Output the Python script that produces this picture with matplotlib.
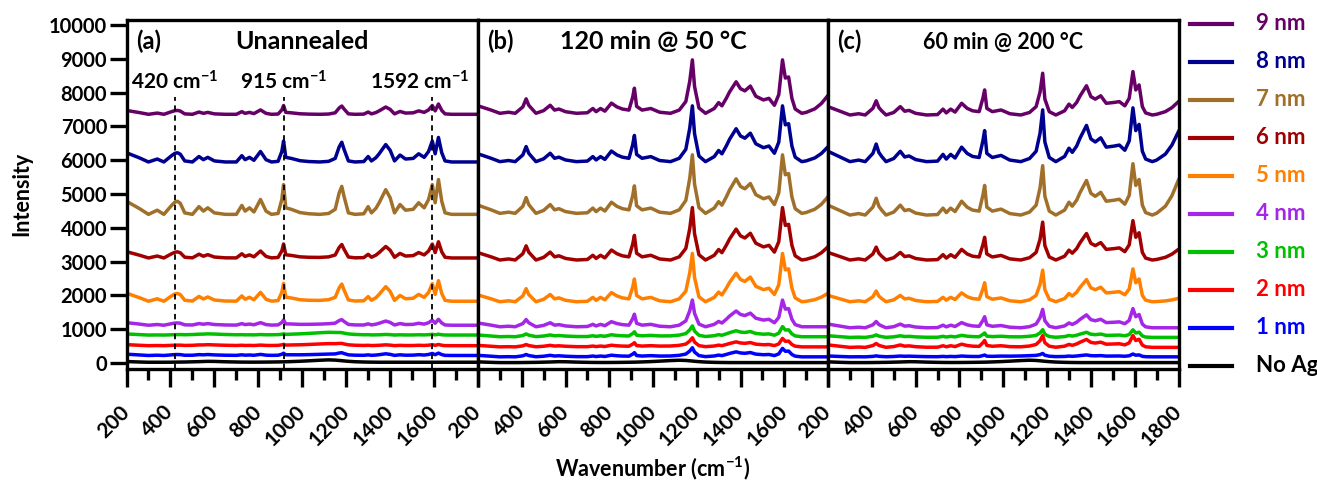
import numpy as np
import matplotlib
matplotlib.use('Agg')
import matplotlib.pyplot as plt

plt.rcParams['font.family'] = ['Lato', 'DejaVu Sans']
plt.rcParams['font.weight'] = 'bold'
plt.rcParams['mathtext.fontset'] = 'custom'
plt.rcParams['mathtext.rm'] = 'Lato:bold'
plt.rcParams['mathtext.bf'] = 'Lato:bold'
plt.rcParams['mathtext.default'] = 'bf'

# wavenumber grid shared by all spectra (cm-1)
wavenumber = [200, 260, 300, 340, 370, 405, 420, 432, 445, 465,
              500, 530, 550, 570, 600, 650, 700, 725, 740, 760,
              780, 810, 835, 860, 890, 907, 915, 925, 950, 990,
              1030, 1080, 1120, 1150, 1168, 1180, 1190, 1210, 1240, 1280,
              1300, 1315, 1335, 1350, 1380, 1400, 1420, 1445, 1470, 1505,
              1530, 1555, 1575, 1592, 1605, 1620, 1635, 1650, 1680, 1700,
              1740, 1770, 1800]

peaks_a = [0.44, 0.19, 0.00, 0.14, 0.00, 0.30, 0.41, 0.44, 0.37, 0.05,
           0.00, 0.26, 0.11, 0.22, 0.05, 0.00, 0.00, 0.30, 0.11, 0.22,
           0.08, 0.50, 0.11, 0.00, 0.03, 0.50, 1.00, 0.22, 0.17, 0.06,
           0.02, 0.00, 0.03, 0.17, 0.72, 0.94, 0.61, 0.05, 0.00, 0.02,
           0.26, 0.05, 0.20, 0.39, 0.83, 0.56, 0.05, 0.33, 0.14, 0.17,
           0.39, 0.22, 0.50, 1.00, 0.39, 1.17, 0.44, 0.05, 0.00, 0.00,
           0.00, 0.00, 0.00]
peaks_b = [0.14, 0.06, 0.00, 0.02, 0.00, 0.12, 0.27, 0.15, 0.09, 0.00,
           0.05, 0.15, 0.06, 0.08, 0.03, 0.00, 0.01, 0.09, 0.03, 0.09,
           0.04, 0.19, 0.12, 0.08, 0.06, 0.30, 0.47, 0.13, 0.06, 0.09,
           0.02, 0.00, 0.06, 0.22, 0.60, 1.00, 0.50, 0.10, 0.00, 0.09,
           0.20, 0.14, 0.28, 0.40, 0.59, 0.46, 0.42, 0.51, 0.32, 0.25,
           0.28, 0.15, 0.35, 1.00, 0.66, 0.68, 0.28, 0.08, 0.00, 0.00,
           0.00, 0.00, 0.00]
peaks_c = [0.20, 0.08, 0.00, 0.03, 0.00, 0.16, 0.34, 0.18, 0.10, 0.00,
           0.06, 0.20, 0.09, 0.11, 0.04, 0.00, 0.01, 0.14, 0.05, 0.14,
           0.07, 0.28, 0.16, 0.10, 0.08, 0.40, 0.60, 0.16, 0.08, 0.12,
           0.03, 0.00, 0.06, 0.20, 0.55, 1.00, 0.38, 0.08, 0.00, 0.10,
           0.26, 0.18, 0.30, 0.45, 0.70, 0.44, 0.38, 0.46, 0.28, 0.30,
           0.32, 0.22, 0.40, 1.04, 0.60, 0.72, 0.20, 0.05, 0.00, 0.00,
           0.00, 0.00, 0.00]
# rising background at the high wavenumber end
tail_shape = [0.0] * 58 + [0.0, 0.05, 0.25, 0.55, 1.00]
# broad substrate bands (seen on thin / bare films)
glass_shape = [0.30, 0.10, 0.00, 0.00, 0.00, 0.02, 0.05, 0.05, 0.08, 0.10,
               0.18, 0.25, 0.32, 0.38, 0.35, 0.20, 0.10, 0.06, 0.05, 0.04,
               0.04, 0.05, 0.07, 0.10, 0.14, 0.17, 0.18, 0.20, 0.28, 0.42,
               0.60, 0.85, 1.00, 0.90, 0.75, 0.65, 0.55, 0.40, 0.22, 0.10,
               0.06, 0.04, 0.02] + [0.0] * 20

labels = ['No Ag', '1 nm', '2 nm', '3 nm', '4 nm', '5 nm', '6 nm', '7 nm', '8 nm', '9 nm']
colors = ['#000000', '#0000FF', '#FF0000', '#00C000', '#A526E6',
          '#FF8000', '#A00000', '#A0702A', '#000090', '#660066']

# per-film offset, band amplitude, tail height, substrate height
offset_a = [25, 225, 515, 830, 1120, 1830, 3110, 4400, 5950, 7360]
amp_a = [0, 60, 30, 20, 150, 520, 410, 880, 620, 260]
tail_a = [0, 0, 0, 0, 0, 0, 0, 0, 0, 0]
glass_a = [70, 40, 60, 80, 40, 30, 20, 0, 0, 0]

offset_b = [15, 185, 480, 780, 1075, 1815, 3050, 4430, 5960, 7390]
amp_b = [0, 250, 250, 300, 790, 1430, 1550, 1730, 1650, 1580]
tail_b = [0, 0, 0, 0, 0, 250, 390, 490, 440, 530]
glass_b = [70, 30, 30, 30, 0, 0, 0, 0, 0, 0]

offset_c = [15, 185, 465, 760, 1045, 1815, 3050, 4380, 5960, 7340]
amp_c = [0, 80, 335, 215, 545, 935, 1120, 1460, 1530, 1235]
tail_c = [0, 0, 0, 0, 0, 100, 315, 1040, 890, 395]
glass_c = [70, 30, 20, 20, 0, 0, 0, 0, 0, 0]

marked_bands = [420, 915, 1592]
panel_titles = ['Unannealed', '120 min @ 50 \u00b0C', '60 min @ 200 \u00b0C']
panel_tags = ['(a)', '(b)', '(c)']

W, H = 1317, 483
fig = plt.figure(figsize=(W / 100, H / 100), dpi=100)

def px_axes(x0, x1, y0=20, y1=368.5):
    return fig.add_axes([x0 / W, 1 - y1 / H, (x1 - x0) / W, (y1 - y0) / H])

edges = [126.5, 478, 828, 1178.5]
panels = [(peaks_a, offset_a, amp_a, tail_a, glass_a),
          (peaks_b, offset_b, amp_b, tail_b, glass_b),
          (peaks_c, offset_c, amp_c, tail_c, glass_c)]

x = np.array(wavenumber)
axes = []
for k, (peaks, off, amp, tail, glass) in enumerate(panels):
    ax = px_axes(edges[k], edges[k + 1])
    axes.append(ax)
    for i in range(len(labels)):
        y = off[i] + amp[i] * np.array(peaks) + tail[i] * np.array(tail_shape) \
            + glass[i] * np.array(glass_shape)
        ax.plot(x, y, color=colors[i], lw=2.5, solid_joinstyle='round')
    ax.set_xlim(200, 1800)
    ax.set_ylim(-160, 10150)
    for s in ax.spines.values():
        s.set_linewidth(2.4)
    ticks = list(range(200, 1801, 200))
    ax.set_xticks(ticks)
    ax.set_xticks(list(range(300, 1800, 200)), minor=True)
    tl = [str(t) for t in ticks]
    if k < 2:
        tl[-1] = ''
    ax.set_xticklabels(tl, rotation=45, ha='right', va='center', rotation_mode='anchor',
                       fontsize=15, fontweight='bold')
    ax.tick_params(axis='x', which='major', direction='out', length=13, width=2.4, pad=16)
    ax.tick_params(axis='x', which='minor', direction='out', length=8, width=2.4)
    ax.text(0.026, 0.917, panel_tags[k], transform=ax.transAxes, fontsize=17,
            fontweight='bold', ha='left', va='baseline')
    ax.text(0.5, 0.917, panel_titles[k], transform=ax.transAxes,
            fontsize=18 if k < 2 else 15.5, fontweight='bold', ha='center', va='baseline')
    if k == 0:
        ax.set_yticks(list(range(0, 10001, 1000)))
        ax.set_yticklabels([str(v) for v in range(0, 10001, 1000)], fontsize=14.5, fontweight='bold')
        ax.tick_params(axis='y', direction='out', length=12, width=2.4, pad=2)
    else:
        ax.set_yticks([])

# dashed markers in panel (a)
ax = axes[0]
for b in marked_bands:
    ax.plot([b, b], [-160, 7870], color='black', lw=1.3, ls=(0, (3, 2.5)))
ax.text(420, 8100, '420 cm$^{-1}$', ha='center', va='baseline', fontsize=15, fontweight='bold')
ax.text(915, 8100, '915 cm$^{-1}$', ha='center', va='baseline', fontsize=15, fontweight='bold')
ax.text(1535, 8100, '1592 cm$^{-1}$', ha='center', va='baseline', fontsize=15, fontweight='bold')

fig.text(22 / W, 1 - 194 / H, 'Intensity', rotation=90, ha='center', va='center',
         fontsize=15.5, fontweight='bold')
fig.text(653 / W, 1 - 476 / H, 'Wavenumber (cm$^{-1}$)', ha='center', va='baseline',
         fontsize=15.5, fontweight='bold')

# legend drawn by hand on the right
lg = fig.add_axes([1180 / W, 0, (W - 1180) / W, 1])
lg.set_xlim(1180, W)
lg.set_ylim(H, 0)
lg.axis('off')
for j, i in enumerate(range(len(labels) - 1, -1, -1)):
    yy = 24 + 38 * j
    lg.plot([1190, 1232], [yy, yy], color=colors[i], lw=3)
    lg.text(1256, yy, labels[i], color=colors[i], fontsize=16, fontweight='bold',
            ha='left', va='center')

fig.savefig('out.png', dpi=100)
